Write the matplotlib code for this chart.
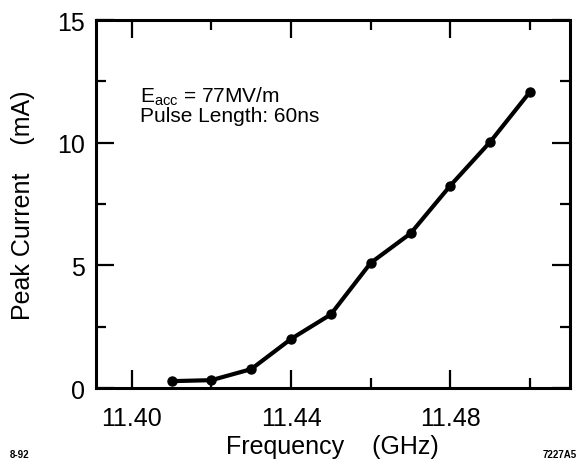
import matplotlib.pyplot as plt
from matplotlib.ticker import MultipleLocator

# Peak current vs frequency
freq = [11.41, 11.42, 11.43, 11.44, 11.45, 11.46, 11.47, 11.48, 11.49, 11.50]
current = [0.28, 0.32, 0.77, 2.0, 3.0, 5.1, 6.3, 8.25, 10.03, 12.07]

x_ticks = [11.40, 11.44, 11.48]
y_ticks = [0, 5, 10, 15]


def draw_plot():
    plt.rcParams['font.family'] = ['Liberation Sans', 'DejaVu Sans']
    fig = plt.figure(figsize=(5.85, 4.64), dpi=100)
    ax = fig.add_axes([0.164, 0.1616, 0.81, 0.7931])

    ax.plot(freq, current, color='black', linewidth=3.0, marker='o',
            markersize=6.5, solid_joinstyle='round', solid_capstyle='round')

    ax.set_xlim(11.391, 11.51)
    ax.set_ylim(0, 15)
    ax.set_xticks(x_ticks)
    ax.set_xticklabels([f'{t:.2f}' for t in x_ticks])
    ax.set_yticks(y_ticks)
    ax.xaxis.set_minor_locator(MultipleLocator(0.02))
    ax.yaxis.set_minor_locator(MultipleLocator(2.5))

    for s in ax.spines.values():
        s.set_linewidth(2.2)
    ax.tick_params(which='both', direction='in', top=True, right=True,
                   width=1.6, labelsize=18, pad=8)
    ax.tick_params(axis='x', which='both', pad=13)
    ax.tick_params(which='major', length=13)
    ax.tick_params(which='minor', length=7)

    ax.set_xlabel('Frequency    (GHz)', fontsize=18, labelpad=3)
    ax.set_ylabel('Peak Current    (mA)', fontsize=18, labelpad=16)

    ax.text(0.093, 0.78, r'E$_{\mathregular{acc}}$ = 77MV/m', transform=ax.transAxes,
            fontsize=15, va='baseline')
    ax.text(0.093, 0.7255, 'Pulse Length: 60ns', transform=ax.transAxes,
            fontsize=15, va='baseline')

    fig.text(0.017, 0.012, '8-92', fontsize=7, fontweight='bold')
    fig.text(0.928, 0.012, '7227A5', fontsize=7, fontweight='bold')

    fig.savefig('out.png', dpi=100)


if __name__ == "__main__":
    draw_plot()
